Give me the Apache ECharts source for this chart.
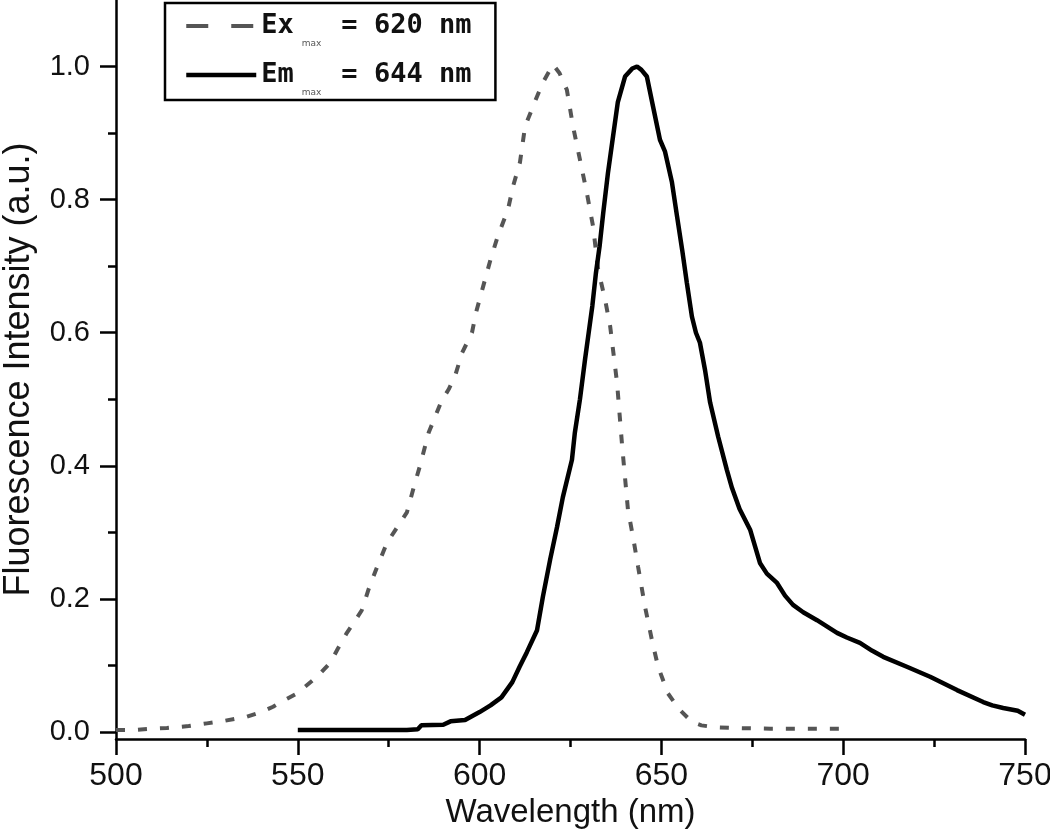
<!DOCTYPE html>
<html>
<head>
<meta charset="utf-8">
<script src="https://cdn.jsdelivr.net/npm/echarts@6/dist/echarts.min.js"></script>
<style>
  html, body { margin: 0; padding: 0; background: #ffffff; }
  #chart { width: 1050px; height: 833px; }
</style>
</head>
<body>
<div id="chart"></div>
<script>
// ---- Data ----
const seriesNames = ['Ex', 'Em'];
const legendValues = ['620 nm', '644 nm'];

const exWavelength = [500, 505, 510, 514, 520, 525, 530, 536, 540, 543.2, 546, 549.8, 552, 554.2, 556.5, 558.9, 561, 563.5, 565.5, 567.6, 569.5, 571.8, 574.5, 577, 580, 582, 583.6, 586, 589.5, 591.5, 593.2, 595.2, 597.9, 599, 601, 603, 605, 607.8, 609.2, 611.1, 612.5, 615.2, 617.4, 620.2, 622, 624, 625.7, 627.6, 629.5, 631.2, 632.6, 634.5, 635.9, 637.8, 639.2, 640.8, 642.3, 643.6, 645.5, 647.4, 649.1, 651.8, 653.5, 655.1, 658.4, 661, 665, 670, 680, 690, 700];
const exIntensity  = [0.003, 0.003, 0.005, 0.006, 0.009, 0.013, 0.017, 0.023, 0.030, 0.038, 0.047, 0.058, 0.068, 0.078, 0.090, 0.104, 0.125, 0.149, 0.165, 0.183, 0.215, 0.248, 0.284, 0.305, 0.330, 0.370, 0.400, 0.450, 0.497, 0.515, 0.534, 0.570, 0.600, 0.630, 0.670, 0.710, 0.745, 0.785, 0.820, 0.856, 0.910, 0.947, 0.976, 1.003, 0.990, 0.965, 0.910, 0.860, 0.810, 0.760, 0.695, 0.650, 0.610, 0.525, 0.430, 0.334, 0.290, 0.248, 0.188, 0.138, 0.098, 0.058, 0.045, 0.033, 0.015, 0.010, 0.007, 0.006, 0.005, 0.005, 0.005];

const emWavelength = [550, 560, 570, 580, 583, 584, 590, 592, 596, 598, 600, 603, 606, 609, 611, 613, 615.8, 617.4, 619.4, 621.3, 622.9, 625.4, 626.2, 627.6, 629, 630, 631, 632, 633, 634, 635.3, 636.7, 638, 640, 642, 643.3, 644.5, 646, 647.7, 649.6, 651, 652.9, 654.3, 655.7, 657, 658.4, 659.5, 660.6, 662, 663.4, 665.6, 668, 669.4, 671.5, 674.4, 677.1, 679, 681.8, 684, 686.2, 689, 692.8, 698.3, 701, 704.6, 708, 711, 717.5, 723.9, 731.3, 738.5, 741, 744, 748, 750];
const emIntensity  = [0.003, 0.003, 0.003, 0.003, 0.004, 0.010, 0.011, 0.016, 0.018, 0.024, 0.030, 0.040, 0.052, 0.075, 0.098, 0.120, 0.153, 0.203, 0.259, 0.308, 0.353, 0.409, 0.450, 0.500, 0.560, 0.600, 0.640, 0.690, 0.730, 0.780, 0.840, 0.895, 0.946, 0.985, 0.997, 1.000, 0.995, 0.985, 0.940, 0.890, 0.872, 0.826, 0.775, 0.725, 0.675, 0.624, 0.600, 0.585, 0.544, 0.495, 0.444, 0.394, 0.367, 0.335, 0.304, 0.254, 0.238, 0.224, 0.205, 0.191, 0.180, 0.168, 0.149, 0.142, 0.134, 0.122, 0.113, 0.098, 0.083, 0.063, 0.045, 0.040, 0.036, 0.032, 0.026];

const yTickValues = [0, 0.2, 0.4, 0.6, 0.8, 1.0];
const yMinorTickValues = [0.1, 0.3, 0.5, 0.7, 0.9];

function zip(xs, ys) { return xs.map((x, i) => [x, ys[i]]); }

const chart = echarts.init(document.getElementById('chart'), null, { renderer: 'canvas' });

const axisColor = '#000';
const option = {
  backgroundColor: '#ffffff',
  animation: false,
  grid: { left: 116, right: 25, top: 0, bottom: 94, containLabel: false, outerBoundsMode: 'none' },
  legend: {
    left: 165,
    top: 3,
    orient: 'vertical',
    itemWidth: 70,
    itemHeight: 14,
    itemGap: 5,
    padding: [1, 24, 3, 19],
    borderColor: '#000',
    borderWidth: 2.5,
    backgroundColor: '#fff',
    itemStyle: { opacity: 0 },
    data: [
      { name: seriesNames[0], itemStyle: { opacity: 0 }, lineStyle: { width: 4, type: [22, 23], color: '#555' } },
      { name: seriesNames[1], itemStyle: { opacity: 0 }, lineStyle: { width: 4.5, type: 'solid', color: '#000' } }
    ],
    formatter: function (name) {
      const i = seriesNames.indexOf(name);
      return name + '{sub|max}= ' + legendValues[i];
    },
    textStyle: {
      fontFamily: 'DejaVu Sans Mono',
      fontWeight: 'bold',
      fontSize: 27,
      color: '#111',
      lineHeight: 44,
      rich: {
        sub: { fontSize: 9, lineHeight: 10, fontFamily: 'DejaVu Sans', fontWeight: 'normal', color: '#555', verticalAlign: 'bottom', padding: [0, 20, 0, 8] }
      }
    }
  },
  xAxis: {
    type: 'value',
    min: 500,
    max: 750,
    interval: 50,
    name: 'Wavelength (nm)',
    nameLocation: 'middle',
    nameGap: 56,
    nameTextStyle: { fontFamily: 'Liberation Sans Narrow, Liberation Sans, Arial', fontSize: 33, color: '#111' },
    axisLine: { show: true, onZero: false, lineStyle: { color: axisColor, width: 2.5 } },
    axisTick: { show: true, inside: false, length: 16, lineStyle: { color: axisColor, width: 2.5 } },
    minorTick: { show: true, splitNumber: 2, length: 8, lineStyle: { color: axisColor, width: 2.5 } },
    axisLabel: { margin: 21, fontFamily: 'Liberation Sans Narrow, Liberation Sans, Arial', fontSize: 32, color: '#111' },
    splitLine: { show: false },
    minorSplitLine: { show: false }
  },
  yAxis: [
    {
      type: 'value',
      min: -0.0105,
      max: 1.1,
      name: 'Fluorescence Intensity (a.u.)',
      nameLocation: 'middle',
      nameGap: 79,
      nameRotate: 90,
      nameTextStyle: { fontFamily: 'Liberation Sans, Arial', fontSize: 36, color: '#111' },
      axisLine: { show: true, onZero: false, lineStyle: { color: axisColor, width: 2.5 } },
      axisTick: { show: true, inside: false, length: 16, customValues: yTickValues, lineStyle: { color: axisColor, width: 2.5 } },
      axisLabel: {
        margin: 26,
        customValues: yTickValues,
        formatter: function (v) { return Number(v).toFixed(1); },
        fontFamily: 'Liberation Sans, Arial',
        fontSize: 29,
        color: '#111'
      },
      splitLine: { show: false }
    },
    {
      type: 'value',
      min: -0.0105,
      max: 1.1,
      position: 'left',
      axisLine: { show: false },
      axisTick: { show: true, inside: false, length: 8, customValues: yMinorTickValues, lineStyle: { color: axisColor, width: 2.5 } },
      axisLabel: { show: false },
      splitLine: { show: false }
    }
  ],
  series: [
    {
      name: seriesNames[0],
      type: 'line',
      data: zip(exWavelength, exIntensity),
      showSymbol: false,
      symbol: 'none',
      smooth: false,
      z: 2,
      lineStyle: { color: '#555', width: 4, type: [9, 13] },
      itemStyle: { color: '#555' }
    },
    {
      name: seriesNames[1],
      type: 'line',
      data: zip(emWavelength, emIntensity),
      showSymbol: false,
      symbol: 'none',
      smooth: false,
      z: 3,
      lineStyle: { color: '#000', width: 4.5, type: 'solid' },
      itemStyle: { color: '#000' }
    }
  ]
};
chart.setOption(option);
</script>
</body>
</html>
